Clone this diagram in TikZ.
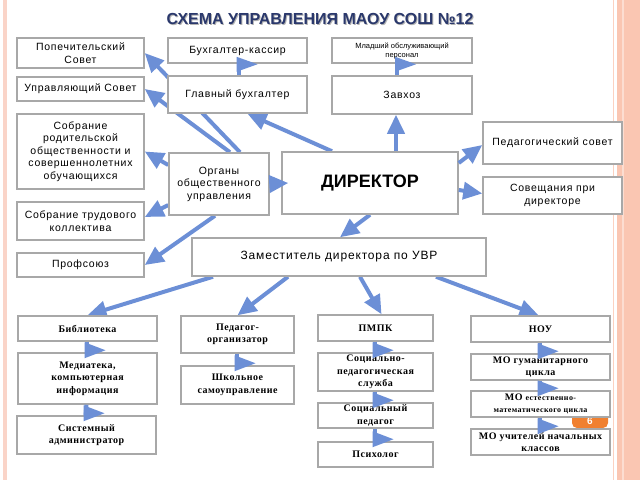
\documentclass[tikz,border=0pt]{standalone}
\usepackage{fontspec}
\setmainfont{Liberation Sans}
\newfontfamily\lowfont{Liberation Serif}
\usetikzlibrary{arrows.meta,backgrounds}

\definecolor{arrowblue}{RGB}{108,143,214}
\definecolor{boxgray}{RGB}{168,168,168}
\definecolor{titleblue}{RGB}{42,56,108}
\definecolor{pinkline}{RGB}{250,212,200}
\definecolor{salmon}{RGB}{250,198,178}
\definecolor{badge}{RGB}{240,128,48}

\begin{document}
\begin{tikzpicture}[x=1pt, y=-1pt,
box/.style={draw=boxgray, line width=1.5pt, fill=white, align=center, inner sep=1pt,
  font=\fontsize{10.5}{12.5}\selectfont\addfontfeature{LetterSpace=7}},
lowbox/.style={box, font=\lowfont\bfseries\fontsize{10}{12.5}\selectfont\addfontfeature{LetterSpace=5}},
link/.style={draw=arrowblue, line width=4pt, ->},
stub/.style={draw=arrowblue, line width=4pt},
>={Triangle[length=19pt, width=17pt]}
]
\useasboundingbox (0,0) rectangle (640,480);
%Frame
\fill[pinkline] (3,0) rectangle (7,480);
\fill[salmon!80] (612.5,0) rectangle (614,480);
\fill[salmon] (617,0) rectangle (640,480);
\fill[salmon!60] (622,0) rectangle (624,480);
\fill[badge, rounded corners=5pt] (572,405) rectangle (608,428);
\node[text=white, font=\fontsize{10}{10}\selectfont\bfseries] (pagenum) at (590,421) {6};
%Title
\node[text=black!30, font=\fontsize{16}{18}\selectfont\bfseries] (titleshadow) at (321,20) {СХЕМА УПРАВЛЕНИЯ МАОУ СОШ №12};
\node[text=titleblue, font=\fontsize{16}{18}\selectfont\bfseries] (title) at (320,19) {СХЕМА УПРАВЛЕНИЯ МАОУ СОШ №12};
%Nodes
\node[box, minimum width=127, minimum height=30] (popech) at (80.5,53) {Попечительский\\Совет};
\node[box, minimum width=127, minimum height=24] (upr) at (80.5,89) {Управляющий Совет};
\node[box, minimum width=127, minimum height=75] (sobrRod) at (80.5,151.5) {Собрание\\родительской\\общественности и\\совершеннолетних\\обучающихся};
\node[box, minimum width=127, minimum height=38] (sobrTrud) at (80.5,221) {Собрание трудового\\коллектива};
\node[box, minimum width=127, minimum height=24] (prof) at (80.5,265) {Профсоюз};
\node[box, minimum width=139, minimum height=25] (kassir) at (237.5,50.5) {Бухгалтер-кассир};
\node[box, minimum width=139, minimum height=37] (glavbuh) at (237.5,94.5) {Главный бухгалтер};
\node[box, minimum width=140, minimum height=25, font=\fontsize{7.5}{9}\selectfont] (mladsh) at (402,50.5) {Младший обслуживающий\\персонал};
\node[box, minimum width=140, minimum height=38] (zavhoz) at (402,95) {Завхоз};
\node[box, minimum width=100, minimum height=62] (organy) at (219,184) {Органы\\общественного\\управления};
\node[box, minimum width=176, minimum height=62, font=\fontsize{18}{20}\selectfont\bfseries] (dir) at (370,183) {ДИРЕКТОР};
\node[box, minimum width=139, minimum height=42] (pedsov) at (552.5,143) {Педагогический совет};
\node[box, minimum width=139, minimum height=37] (sovesch) at (552.5,195.5) {Совещания при\\директоре};
\node[box, minimum width=294, minimum height=38, font=\fontsize{12}{14}\selectfont\addfontfeature{LetterSpace=7}] (zam) at (339,257) {Заместитель директора по УВР};
\node[lowbox, minimum width=139, minimum height=25] (bibl) at (87.5,328.5) {Библиотека};
\node[lowbox, minimum width=139, minimum height=51] (media) at (87.5,378.5) {Медиатека,\\компьютерная\\информация};
\node[lowbox, minimum width=139, minimum height=38] (sysadm) at (86.5,435) {Системный\\администратор};
\node[lowbox, minimum width=113, minimum height=37] (pedorg) at (237.5,334.5) {Педагог-\\организатор};
\node[lowbox, minimum width=113, minimum height=38] (samoupr) at (237.5,385) {Школьное\\самоуправление};
\node[lowbox, minimum width=115, minimum height=26] (pmpk) at (375.5,328) {ПМПК};
\node[lowbox, minimum width=115, minimum height=38] (socslu) at (375.5,372) {Социально-\\педагогическая\\служба};
\node[lowbox, minimum width=115, minimum height=25] (socped) at (375.5,415.5) {Социальный\\педагог};
\node[lowbox, minimum width=115, minimum height=25] (psih) at (375.5,454.5) {Психолог};
\node[lowbox, minimum width=139, minimum height=26] (nou) at (540.5,329) {НОУ};
\node[lowbox, minimum width=139, minimum height=26] (moGum) at (540.5,367) {МО гуманитарного\\цикла};
\node[lowbox, minimum width=139, minimum height=26] (moEst) at (540.5,404) {МО {\fontsize{8}{9}\selectfont естественно-}\\{\fontsize{8}{9}\selectfont математического цикла}};
\node[lowbox, minimum width=139, minimum height=26] (moNach) at (540.5,442) {МО учителей начальных\\классов};
%Lines
\begin{scope}[on background layer]
\draw[link] ([xshift=21pt]organy.north) -- (popech.east);
\draw[link] ([xshift=11pt]organy.north) -- (upr.east);
\draw[link] ([yshift=19pt]organy.west) -- (sobrRod.east);
\draw[link] ([yshift=-21pt]organy.west) -- ([yshift=4pt]sobrTrud.east);
\draw[link] ([xshift=-4pt]organy.south) -- (prof.east);
\draw[link] ([xshift=-38pt]dir.north) -- ([xshift=10pt]glavbuh.south);
\draw[link] ([xshift=26pt]dir.north) -- ([xshift=-6pt]zavhoz.south);
\draw[link] (dir.south) -- ([xshift=1pt]zam.north);
\draw[link] ([xshift=-126pt]zam.south) -- (bibl.north);
\draw[link] ([xshift=-51pt]zam.south) -- (pedorg.north);
\draw[link] ([xshift=21pt]zam.south) -- ([xshift=6pt]pmpk.north);
\draw[link] ([xshift=97pt]zam.south) -- ([xshift=-2pt]nou.north);
\end{scope}
\draw[link] (organy.east) -- ([xshift=7pt]dir.west);
\draw[link] ([yshift=20pt]dir.east) -- ([yshift=-2pt]pedsov.west);
\draw[link] ([yshift=-7pt]dir.east) -- ([yshift=2pt]sovesch.west);
%Short links
\foreach \a/\b/\dx in {glavbuh/kassir/1, zavhoz/mladsh/-5}{
  \draw[stub] ([xshift=\dx pt]\a.north) -- ([xshift=\dx pt]\b.south);
  \fill[arrowblue] ([xshift=\dx pt-2pt, yshift=7pt]\b.south) -- ++(0,15) -- ++(21,-7.5) -- cycle;
}
\foreach \a/\b in {bibl/media, media/sysadm, pedorg/samoupr, pmpk/socslu, socslu/socped, socped/psih, nou/moGum, moGum/moEst, moEst/moNach}{
  \draw[stub] ([xshift=-1pt]\a.south) -- ([xshift=-1pt]\b.north);
  \fill[arrowblue] ([xshift=-3pt, yshift=10pt]\b.north) -- ++(0,16) -- ++(21,-8) -- cycle;
}
\end{tikzpicture}
\end{document}
